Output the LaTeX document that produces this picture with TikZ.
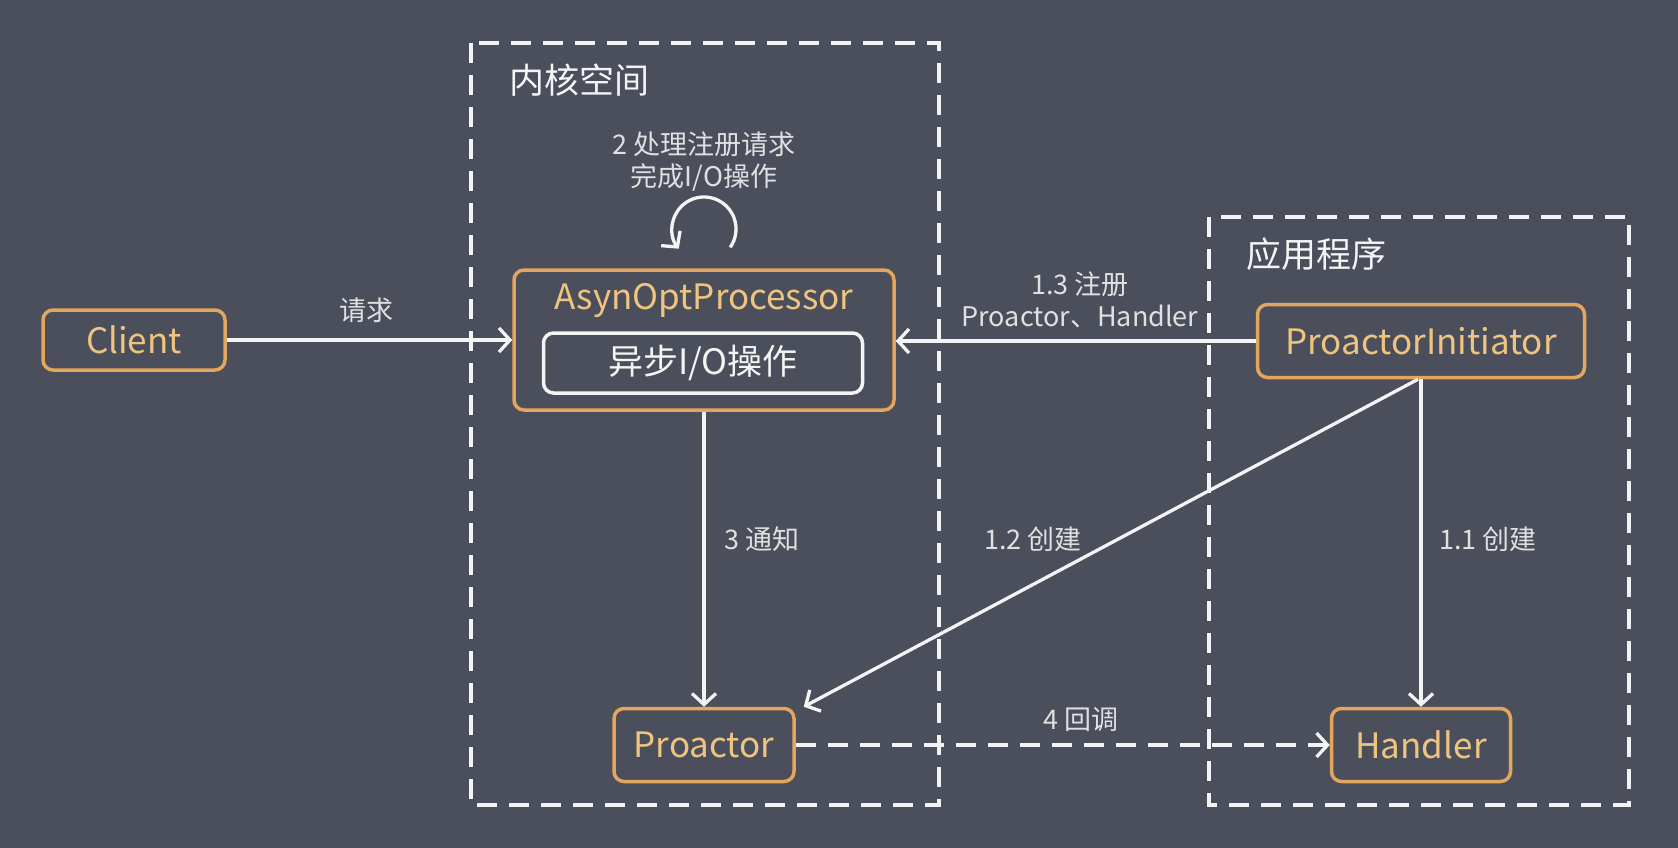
\documentclass[tikz,border=0pt]{standalone}
\usepackage{fontspec}
\setmainfont{Noto Sans CJK SC}
\usetikzlibrary{arrows.meta}
\definecolor{bgslate}{RGB}{75,79,92}
\definecolor{boxorange}{RGB}{226,166,92}
\definecolor{txtorange}{RGB}{238,196,128}
\definecolor{linewhite}{RGB}{244,244,244}
\tikzset{>/.tip={Straight Barb[length=11pt,width=24pt]},
  obj/.style={draw=boxorange, line width=3.5pt, rounded corners=10pt, text=txtorange,
    font=\fontsize{35}{40}\selectfont, inner sep=0pt},
  zone/.style={draw=linewhite, line width=3.2pt, dash pattern=on 20pt off 12pt},
  flow/.style={draw=linewhite, line width=3.3pt},
  lbl/.style={text=linewhite!92!black, font=\fontsize{27}{32}\selectfont, inner sep=0pt, align=center},
  ttl/.style={text=linewhite, font=\fontsize{35}{40}\selectfont, inner sep=0pt}}
\begin{document}
\begin{tikzpicture}[x=1pt, y=-1pt]
\fill[bgslate] (0,0) rectangle (1678,848);
\useasboundingbox (0,0) rectangle (1678,848);
% zones
\draw[zone] (471,43) rectangle (939,805);
\draw[zone] (1209,217) rectangle (1629,805);
\node[ttl] (kernel) at (579,80)  {内核空间};
\node[ttl] (app)    at (1316,254) {应用程序};
% boxes
\node[obj, minimum width=182, minimum height=60] (client) at (134,340) {Client};
\node[obj, minimum width=380, minimum height=140] (aop) at (704,340) {};
\node[ttl, text=txtorange] (aoptitle) at (704,301) {AsynOptProcessor};
\node[obj, draw=linewhite, text=linewhite, minimum width=319, minimum height=60] (asyncio) at (703,363) {异步I/O操作};
\node[obj, minimum width=327, minimum height=73] (init) at (1421,341) {ProactorInitiator};
\node[obj, minimum width=180, minimum height=73] (proactor) at (704,745) {Proactor};
\node[obj, minimum width=179, minimum height=73] (handler) at (1421,745) {Handler};
% labels
\node[lbl] (req)    at (366,310)  {请求};
\node[lbl] (proc)   at (704,162)  {2 处理注册请求\\完成I/O操作};
\node[lbl] (reg)    at (1080,300) {1.3 注册\\Proactor、Handler};
\node[lbl] (notify) at (762,539)  {3 通知};
\node[lbl] (create2) at (1033,539) {1.2 创建};
\node[lbl] (create1) at (1488,539) {1.1 创建};
\node[lbl] (callback) at (1081,720) {4 回调};
% connectors
\coordinate (loopc) at (704,229);
\draw[flow,->] ([shift={(35:32)}]loopc) arc[start angle=35, end angle=-218, radius=32];
\draw[flow,->] (client) -- (aop);
\draw[flow,->] (init.west) -- (init.west -| aop.east);
\draw[flow,->] (aop) -- (proactor);
\draw[flow,->] ([xshift=-3pt]init.south) -- ([xshift=8pt]proactor.north east);
\draw[flow,->] (init) -- (handler);
\draw[flow,->, dash pattern=on 20pt off 12pt] (proactor) -- (handler);
\end{tikzpicture}
\end{document}
